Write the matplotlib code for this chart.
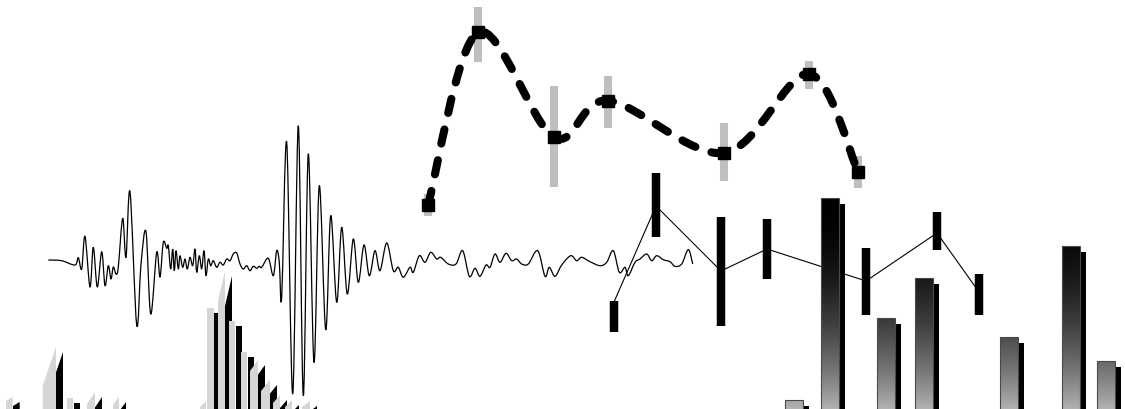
import numpy as np
import matplotlib
matplotlib.use("Agg")
import matplotlib.pyplot as plt
from matplotlib.path import Path
from matplotlib.patches import PathPatch
from matplotlib.transforms import ScaledTranslation

# seismic trace: (time ms, amplitude)
wave = [(0.3, 1), (13.7, 0.3), (27, -4), (30.3, 3.3), (33.7, -8), (37, 24.7), (42, -26),
        (45.3, 13.7), (49.3, -26), (53.7, 9.3), (57, -24.7), (60.3, -4.7), (63, -18), (65.3, -6),
        (68, -13), (70.3, -6), (74.7, 42.7), (78, 3.7), (82, 69.3), (88.7, -64), (93, -3),
        (98, 29.3), (102.7, -53), (108.7, 8.7), (112, -16), (115.3, 18.7), (118.7, 12.7),
        (120.3, 15.3), (122.7, -8), (124.7, 12), (126.3, -9.7), (128, 10.3), (130.3, -8),
        (132, 5.3), (134.7, -6.3), (137, 2), (139.3, -8), (142, 3.7), (144.7, -4.7), (147, 12),
        (148.7, -11.3), (151.3, 5.3), (153.7, -8), (156, 10.3), (158, -14.7), (160.3, 2),
        (162.7, -4.7), (165.3, 0.3), (168.7, -6.3), (172, -1.3), (175.3, -4), (178.7, 2),
        (182, 0.3), (185.3, 7), (188.7, 8), (192, -3), (195.3, -8), (198.7, -4.7), (202, -9.7),
        (205.3, -5.3), (208.7, -7.3), (211.3, -5.3), (213.7, -6.3), (220.3, 2.7), (225.3, -14.7),
        (228.7, 10.3), (231.3, -1.3), (233.7, -36.3), (238.7, 118.7), (244.7, -133),
        (250.3, 135.3), (255.3, -134.7), (260.3, 107), (266, -101.3), (271.3, 75.3),
        (277.7, -68.7), (282.7, 45.3), (288.7, -41.3), (293.7, 33.7), (299.3, -33), (305.3, 22),
        (310.3, -21.3), (316, 16), (321.3, -14.7), (327, 10.3), (332, -9.7), (338.7, 18),
        (345.3, -9.7), (350.3, -6.3), (355.3, -16.3), (362, -6.3), (365.3, -11.3), (371.3, 5.3),
        (377, -1.3), (382.7, 8.7), (388.7, 2), (392.7, 3.7), (400.3, -3), (408, -3),
        (414.7, 10.3), (421.3, -15.3), (427, -7.3), (432, -15.3), (438, -4), (442, -6.3),
        (447, 7), (452, -1.3), (458, 7.7), (463.7, 0.3), (468.7, 2), (473.7, -3), (480.3, -3),
        (489.7, 10.3), (497, -15.3), (501.3, -6.3), (507, -15.3), (513.7, -4), (522.7, 5.3),
        (528.7, 0.3), (533.7, 3.7), (542, -0.7), (552, -4.7), (558.7, -1.3), (565.3, 10.3),
        (571.3, -11.3), (577, -6.3), (580.3, -14.7), (587, -1.3), (592, 2), (598.7, 7),
        (603.7, 0.3), (608.7, 5.3), (615.3, 1.3), (622, -0.7), (627, -5.3), (633.7, -3),
        (640.3, 11.3), (644.7, -3)]

# spectrum teeth (start/end freq, height at start/end)
tooth_x0 = [0.6, 4.27, 6.67, 8.7, 11.3, 20.0, 20.73, 21.8, 22.9, 24.05, 25.0, 26.1, 27.3, 28.5, 30.2]
tooth_x1 = [1.27, 5.6, 7.27, 9.5, 11.9, 20.6, 21.4, 22.5, 23.5, 24.7, 25.8, 27.0, 28.0, 29.2, 31.0]
tooth_h0 = [0.8, 2.33, 1.1, 0.5, 0.4, 0.2, 10.1, 10.8, 8.8, 5.7, 3.8, 1.8, 0.6, 0.2, 0.2]
tooth_h1 = [1.2, 6.2, 1.1, 1.7, 1.2, 0.8, 10.1, 13.8, 8.8, 5.7, 4.9, 2.9, 1.4, 0.9, 0.8]

# dashed profile with error ranges
prof_x = [2.0, 3.0, 4.52, 5.6, 7.92, 9.62, 10.6]
prof_y = [1.2, 9.83, 4.58, 6.42, 3.8, 7.75, 2.87]
prof_lo = [0.65, 8.33, 2.1, 5.05, 2.4, 7.0, 2.03]
prof_hi = [1.75, 11.08, 7.15, 7.65, 5.3, 8.42, 3.67]

# range bars joined by a thin line
rng_x = [1.0, 3.1, 6.35, 8.65, 13.6, 17.15, 19.25]
rng_mid = [3.7, 13.3, 6.8, 9.0, 5.8, 10.6, 4.7]
rng_lo = [0.73, 10.17, 1.27, 6.0, 2.4, 8.9, 2.4]
rng_hi = [3.83, 16.6, 12.23, 12.0, 9.1, 12.67, 6.47]

# shaded bars
bar_x = [2.0, 4.0, 7.11, 9.22, 13.94, 17.39, 19.33]
bar_v = [0.7, 10.8, 4.8, 6.8, 3.85, 8.4, 2.65]

fig = plt.figure(figsize=(11.25, 4.1), dpi=100)


def layer(z):
    ax = fig.add_axes([0, 0, 1, 1], zorder=z)
    ax.axis("off")
    ax.patch.set_alpha(0)
    return ax


def smooth_path(xs, ys):
    # cubic bezier path through the points (catmull-rom tangents)
    P = np.column_stack([xs, ys]).astype(float)
    n = len(P)
    verts = [P[0]]
    codes = [Path.MOVETO]
    for i in range(n - 1):
        c1 = P[i] + (P[i + 1] - P[max(i - 1, 0)]) / 6
        c2 = P[i + 1] - (P[min(i + 2, n - 1)] - P[i]) / 6
        verts += [c1, c2, P[i + 1]]
        codes += [Path.CURVE4] * 3
    return Path(verts, codes)


# spectrum area with black shadow
axe = layer(1)
sh = axe.transData + ScaledTranslation(0.07, -0.05, fig.dpi_scale_trans)
for x0, x1, h0, h1 in zip(tooth_x0, tooth_x1, tooth_h0, tooth_h1):
    axe.fill([x0, x0, x1, x1], [0, h0, h1, 0], color="black", lw=0, transform=sh, zorder=1)
for x0, x1, h0, h1 in zip(tooth_x0, tooth_x1, tooth_h0, tooth_h1):
    axe.fill([x0, x0, x1, x1], [0, h0, h1, 0], color="#d6d6d6", lw=0, zorder=2)
axe.set_xlim(0, 112.5)
axe.set_ylim(0, 41)

# trace
axa = layer(2)
t, amp = zip(*wave)
axa.add_patch(PathPatch(smooth_path(t, amp), fill=False, edgecolor="black", lw=0.9))
axa.set_xlim(-48, 1077)
axa.set_ylim(-148, 262)

# range bars
axc = layer(3)
axc.plot(rng_x, rng_mid, color="black", lw=0.8, zorder=1)
axc.vlines(rng_x, rng_lo, rng_hi, color="black", lw=6.1, zorder=2)
axc.set_xlim(-29.7, 26.55)
axc.set_ylim(-7, 34)

# gradient bars with shadow
axd = layer(4)
shd = axd.transData + ScaledTranslation(0.06, -0.06, fig.dpi_scale_trans)
axd.bar(bar_x, bar_v, width=1.0, color="black", lw=0, transform=shd, zorder=1)
vmax = max(bar_v)
ys = np.linspace(vmax, 0, 256)
g = 0.73 * ((vmax - ys) / vmax) ** 2
img = np.repeat(g[:, None, None], 3, axis=2)
fronts = axd.bar(bar_x, bar_v, width=1.0, facecolor="none", edgecolor="#4a4a4a", lw=0.8, zorder=3)
for rect in fronts:
    im = axd.imshow(img, extent=[rect.get_x(), rect.get_x() + rect.get_width(), 0, vmax],
                    aspect="auto", interpolation="bilinear", zorder=2)
    im.set_clip_path(rect)
axd.set_xlim(-42.11, 20.39)
axd.set_ylim(0.25, 20.75)

# dashed smooth profile
axb = layer(5)
axb.vlines(prof_x, prof_lo, prof_hi, color="#bfbfbf", lw=5.8, zorder=1)
axb.add_patch(PathPatch(smooth_path(prof_x, prof_y), fill=False, edgecolor="black", lw=5.8,
                        linestyle=(0, (1.8, 2.1)), capstyle="round", zorder=2))
axb.plot(prof_x, prof_y, "s", ms=8.6, color="black", ls="none", zorder=3)
axb.set_xlim(-6.56, 15.94)
axb.set_ylim(-9, 11.5)

plt.savefig("out.png", dpi=100)
